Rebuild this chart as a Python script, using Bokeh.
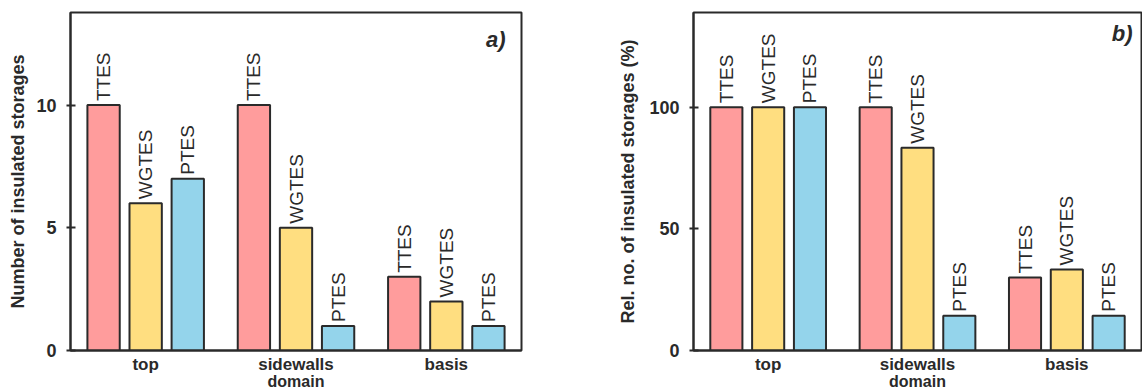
from math import pi
from bokeh.plotting import figure
from bokeh.models import FactorRange, Range1d, FixedTicker, ColumnDataSource, Label
from bokeh.transform import dodge
from bokeh.layouts import row
from bokeh.embed import file_html
from bokeh.resources import INLINE
from bokeh.core.properties import value

# ---- data ----
domains = ["top", "sidewalls", "basis"]
storage_types = ["TTES", "WGTES", "PTES"]
count_ttes = [10, 10, 3]
count_wgtes = [6, 5, 2]
count_ptes = [7, 1, 1]
rel_ttes = [100, 100, 30]
rel_wgtes = [100, 83.3, 33.3]
rel_ptes = [100, 14.3, 14.3]
count_ticks = [0, 5, 10]
rel_ticks = [0, 50, 100]

colors = ["#FF9C9C", "#FFDE80", "#94D4EB"]
offsets = [-0.28, 0.0, 0.28]
FONT = "Liberation Sans"
DARK = "#2a2a2a"


def panel(series, ymax, ticks, ylabel, tag, frame_w, b_left, b_right,
          tag_inset, tag_top, label_standoff):
    fh = 338
    p = figure(x_range=FactorRange(*domains, range_padding=0),
               y_range=Range1d(0, ymax),
               frame_width=frame_w, frame_height=fh,
               min_border_left=b_left, min_border_right=b_right,
               min_border_top=12, min_border_bottom=38,
               output_backend="svg", toolbar_location=None)
    for name, vals, col, off in zip(storage_types, series, colors, offsets):
        src = ColumnDataSource(dict(domain=domains, val=vals, label=[name] * len(vals)))
        p.vbar(x=dodge("domain", off, range=p.x_range), top="val", width=0.215,
               source=src, fill_color=col, line_color=DARK, line_width=2)
        p.text(x=dodge("domain", off, range=p.x_range), y="val", text="label",
               source=src, angle=pi / 2, text_align="left", text_baseline="middle",
               y_offset=-4, text_font=value(FONT), text_font_size="19px",
               text_color=DARK)
    p.xgrid.visible = False
    p.ygrid.visible = False
    p.outline_line_color = DARK
    p.outline_line_width = 2
    p.outline_line_alpha = 1

    ya = p.yaxis[0]
    ya.ticker = FixedTicker(ticks=ticks)
    ya.minor_tick_line_color = None
    ya.major_tick_in = 5
    ya.major_tick_out = 4
    ya.major_tick_line_width = 2
    ya.major_tick_line_color = DARK
    ya.axis_line_width = 2
    ya.axis_line_color = DARK
    ya.major_label_text_font = FONT
    ya.major_label_text_font_style = "bold"
    ya.major_label_text_font_size = "18px"
    ya.major_label_text_color = DARK
    ya.major_label_standoff = 10
    ya.axis_label = ylabel
    ya.axis_label_text_font = FONT
    ya.axis_label_text_font_style = "bold"
    ya.axis_label_text_font_size = "18px"
    ya.axis_label_text_color = DARK
    ya.axis_label_standoff = label_standoff

    xa = p.xaxis[0]
    xa.major_tick_in = 0
    xa.major_tick_out = 0
    xa.axis_line_width = 2
    xa.axis_line_color = DARK
    xa.major_label_text_font = FONT
    xa.major_label_text_font_style = "bold"
    xa.major_label_text_font_size = "17px"
    xa.major_label_text_color = DARK
    xa.major_label_standoff = 4
    xa.axis_label = "domain"
    xa.axis_label_text_font = FONT
    xa.axis_label_text_font_style = "bold"
    xa.axis_label_text_font_size = "16px"
    xa.axis_label_text_color = DARK
    xa.axis_label_standoff = -4

    px_x = frame_w / 3.0
    px_y = fh / ymax
    p.add_layout(Label(x=3 - tag_inset / px_x, y=ymax - tag_top / px_y, text=tag,
                       text_align="right", text_baseline="top",
                       text_font=FONT, text_font_style="bold italic",
                       text_font_size="22px", text_color=DARK))
    return p


p1 = panel([count_ttes, count_wgtes, count_ptes], 13.77, count_ticks,
           "Number of insulated storages", "a)", 451, 70, 87, 16, 14, 5)
p2 = panel([rel_ttes, rel_wgtes, rel_ptes], 138.9, rel_ticks,
           "Rel. no. of insulated storages (%)", "b)", 448, 85, 1, 9, 8, 8)

layout = row(p1, p2)
open("out.html", "w").write(file_html(layout, INLINE))
